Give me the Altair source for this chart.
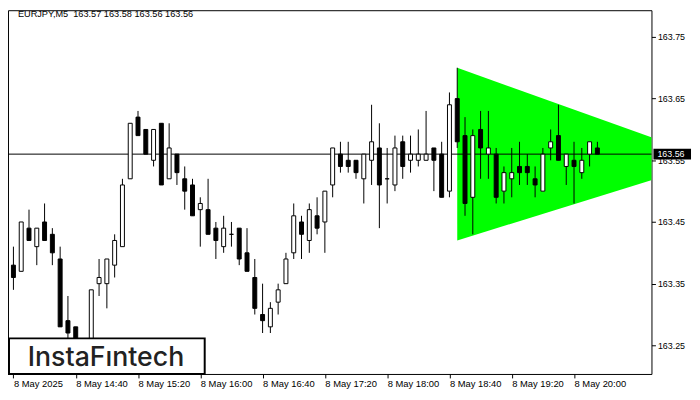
import altair as alt
import pandas as pd

symbol = "EURJPY,M5"
opens = [163.38,163.37,163.44,163.41,163.45,163.43,163.39,163.29,163.28,163.25,
         163.24,163.35,163.35,163.38,163.41,163.52,163.62,163.60,163.55,163.61,
         163.52,163.56,163.52,163.51,163.47,163.47,163.44,163.41,163.43,163.44,
         163.40,163.36,163.30,163.28,163.32,163.35,163.40,163.45,163.42,163.46,
         163.45,163.51,163.56,163.55,163.55,163.52,163.55,163.57,163.52,163.51,
         163.58,163.55,163.55,163.55,163.57,163.56,163.50,163.65,163.59,163.49,
         163.60,163.56,163.56,163.50,163.52,163.54,163.54,163.52,163.50,163.57,
         163.59,163.54,163.55,163.53,163.56,163.57]
highs = [163.41,163.45,163.47,163.44,163.48,163.44,163.41,163.33,163.28,163.26,
         163.34,163.39,163.39,163.43,163.52,163.61,163.63,163.60,163.60,163.61,
         163.61,163.56,163.54,163.52,163.49,163.52,163.45,163.46,163.45,163.44,
         163.44,163.39,163.35,163.32,163.35,163.40,163.48,163.46,163.48,163.49,
         163.50,163.57,163.58,163.58,163.55,163.56,163.64,163.61,163.57,163.59,
         163.59,163.59,163.60,163.63,163.57,163.58,163.66,163.70,163.62,163.60,
         163.63,163.63,163.57,163.54,163.57,163.58,163.56,163.54,163.57,163.60,
         163.64,163.56,163.58,163.57,163.58,163.58]
lows = [163.34,163.37,163.42,163.38,163.42,163.38,163.28,163.26,163.24,163.22,
        163.23,163.33,163.31,163.36,163.41,163.52,163.59,163.56,163.54,163.51,
        163.52,163.51,163.47,163.46,163.41,163.43,163.39,163.40,163.41,163.38,
        163.37,163.30,163.27,163.27,163.30,163.35,163.39,163.39,163.40,163.43,
        163.40,163.49,163.53,163.53,163.52,163.48,163.51,163.44,163.48,163.50,
        163.52,163.53,163.54,163.55,163.50,163.49,163.49,163.57,163.46,163.43,
        163.52,163.52,163.48,163.48,163.49,163.51,163.51,163.49,163.50,163.55,
        163.55,163.51,163.48,163.52,163.54,163.56]
closes = [163.36,163.45,163.42,163.44,163.42,163.40,163.28,163.27,163.25,163.24,
          163.34,163.36,163.39,163.42,163.51,163.61,163.59,163.56,163.60,163.51,
          163.57,163.53,163.50,163.46,163.48,163.43,163.42,163.44,163.43,163.39,
          163.37,163.31,163.29,163.31,163.34,163.39,163.46,163.43,163.47,163.44,
          163.50,163.57,163.54,163.54,163.53,163.56,163.58,163.51,163.52,163.57,
          163.54,163.56,163.56,163.56,163.55,163.49,163.64,163.58,163.48,163.59,
          163.57,163.57,163.49,163.53,163.53,163.53,163.53,163.51,163.56,163.58,
          163.55,163.56,163.54,163.55,163.58,163.56]

x_labels = ["8 May 2025", "8 May 14:40", "8 May 15:20", "8 May 16:00", "8 May 16:40",
            "8 May 17:20", "8 May 18:00", "8 May 18:40", "8 May 19:20", "8 May 20:00"]
x_tick_bars = [0, 8, 16, 24, 32, 40, 48, 56, 64, 72]
y_ticks = [163.25, 163.35, 163.45, 163.55, 163.65, 163.75]

# symmetrical triangle pattern (bar index, upper bound, lower bound)
tri_x = [57, 90.2]
tri_top = [163.70, 163.55]
tri_bottom = [163.42, 163.55]

logo_text = "InstaFıntech"

W, H = 651, 368
FONT = "Liberation Sans"

candles = pd.DataFrame({
    "i": list(range(len(opens))),
    "open": opens, "high": highs, "low": lows, "close": closes,
})
tri = pd.DataFrame({"i": tri_x, "top": tri_top, "bottom": tri_bottom})
last = pd.DataFrame({"p": [closes[-1]], "lbl": [f"{closes[-1]:.2f}"]})
header = pd.DataFrame({"t": [f"{symbol}\u00a0\u00a0{opens[-1]:.2f} {highs[-1]:.2f} {lows[-1]:.2f} {closes[-1]:.2f}"]})
logo = pd.DataFrame({"t": [logo_text]})

label_arr = "[" + ",".join(f"'{s}'" for s in x_labels) + "]"

xscale = alt.Scale(domain=[-0.0625, W / 8 - 0.0625], nice=False, zero=False)
yscale = alt.Scale(domain=[163.2036, 163.7933], nice=False, zero=False)

xaxis = alt.Axis(values=x_tick_bars, labelExpr=f"{label_arr}[round(datum.value/8)]",
                 orient="bottom", tickSize=4, tickColor="#000", labelColor="#000",
                 labelFont=FONT, labelFontSize=9.5, labelAlign="left", labelBaseline="top",
                 labelPadding=1, labelFlush=False, labelOverlap=False, domain=False,
                 grid=False, title=None)
yaxis = alt.Axis(values=y_ticks, format=".2f", orient="right", tickSize=4, tickColor="#000",
                 labelColor="#000", labelFont=FONT, labelFontSize=9, labelPadding=2,
                 labelFlush=False, labelOverlap=False, domain=False, grid=False, title=None)

X = alt.X("i:Q", scale=xscale, axis=xaxis)

triangle = alt.Chart(tri).mark_area(color="#00ff00", opacity=1, clip=True).encode(
    x=X,
    y=alt.Y("top:Q", scale=yscale, axis=yaxis),
    y2="bottom:Q",
)

bid_line = alt.Chart(last).mark_rule(color="#000", strokeWidth=1).encode(
    y=alt.Y("p:Q", scale=yscale, axis=yaxis)
)

wicks = alt.Chart(candles).mark_rule(color="#000", strokeWidth=1, clip=True).encode(
    x=X,
    y=alt.Y("low:Q", scale=yscale, axis=yaxis),
    y2="high:Q",
)

bodies = alt.Chart(candles).mark_bar(size=4, stroke="#000", strokeWidth=1, clip=True).encode(
    x=X,
    y=alt.Y("open:Q", scale=yscale, axis=yaxis),
    y2="close:Q",
    fill=alt.condition("datum.close >= datum.open", alt.value("#ffffff"), alt.value("#000000")),
)

logo_box = alt.Chart(logo).mark_rect(fill="#ffffff", stroke="#000", strokeWidth=2).encode(
    x=alt.value(1), x2=alt.value(199), y=alt.value(332), y2=alt.value(368)
)
logo_txt = alt.Chart(logo).mark_text(align="left", baseline="alphabetic", font="Inter",
                                     fontSize=27, fontWeight=500, color="#222222").encode(
    x=alt.value(20), y=alt.value(360), text="t:N"
)

header_txt = alt.Chart(header).mark_text(align="left", baseline="alphabetic", font=FONT,
                                         fontSize=9.3, color="#000").encode(
    x=alt.value(10), y=alt.value(7), text="t:N"
)

price_box = alt.Chart(last).mark_point(
    shape="M-1,-0.29L1,-0.29L1,0.29L-1,0.29Z", size=1444, filled=True,
    fill="#000", opacity=1, strokeWidth=0,
).encode(x=alt.value(672), y=alt.Y("p:Q", scale=yscale, axis=yaxis))

price_txt = alt.Chart(last).mark_text(align="left", baseline="middle", font=FONT,
                                      fontSize=9, color="#ffffff").encode(
    x=alt.value(657), y=alt.Y("p:Q", scale=yscale, axis=yaxis), text="lbl:N"
)

chart = alt.layer(
    triangle, bid_line, wicks, bodies, logo_box, logo_txt, header_txt, price_box, price_txt
).properties(
    width=W, height=H,
    padding={"left": 0, "top": 0, "right": 41, "bottom": 16},
    autosize=alt.AutoSizeParams(type="none"),
    background="#ffffff",
).configure_view(stroke="#000", strokeWidth=1)

chart.save("out.html", embed_options={"renderer": "svg", "actions": False})
